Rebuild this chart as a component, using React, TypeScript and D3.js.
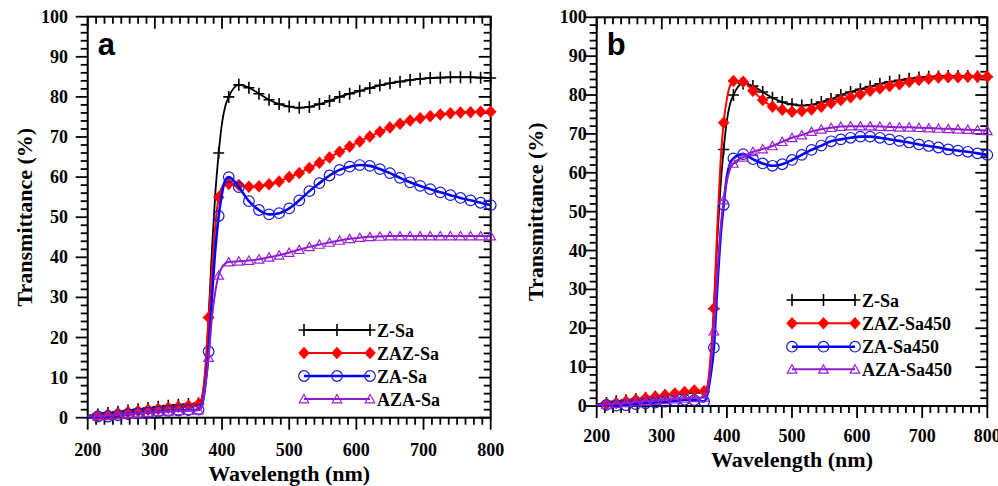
import React from "react";
import * as d3 from "d3";

// Wavelengths (nm) at which symbols are placed
const markerNm = [
  215, 230, 245, 260, 275, 290, 305, 320, 335, 350, 365, 380, 395, 410, 425, 440, 455, 470, 485, 500,
  515, 530, 545, 560, 575, 590, 605, 620, 635, 650, 665, 680, 695, 710, 725, 740, 755, 770, 785, 800,
];
// Additional wavelengths sampled only for the connecting lines (absorption edge)
const edgeNm = [200, 370, 375, 385, 390, 400, 405];

const xTicks = [200, 300, 400, 500, 600, 700, 800];
const yTicks = [0, 10, 20, 30, 40, 50, 60, 70, 80, 90, 100];

// Transmittance (%) — Z-Sa (shared by both panels)
const zSa = [
  0.8, 1.2, 1.5, 1.8, 2.1, 2.4, 2.7, 3.0, 3.2, 3.4, 3.6, 25.0, 66.0, 80.0, 83.0, 82.3, 80.8, 79.3, 78.2, 77.6,
  77.3, 77.5, 78.2, 79.0, 80.0, 80.8, 81.5, 82.2, 82.9, 83.4, 83.8, 84.2, 84.5, 84.7, 84.8, 84.9, 84.9, 84.9, 84.8, 84.7,
];
const zSaEdge = [0.5, 5, 11, 42, 56, 73.5, 77.8];

// Panel a
const zazSa = [
  0.5, 0.8, 1.1, 1.4, 1.7, 2.0, 2.2, 2.5, 2.7, 3.0, 3.4, 25.0, 55.0, 58.3, 58.0, 57.6, 57.7, 58.2, 58.9, 60.0,
  61.0, 62.3, 63.6, 64.9, 66.3, 67.6, 68.9, 70.1, 71.3, 72.4, 73.3, 74.1, 74.7, 75.2, 75.6, 75.9, 76.1, 76.2, 76.3, 76.3,
];
const zazSaEdge = [0.3, 5, 12, 37, 48, 57.5, 58.5];

const zaSa = [
  0.3, 0.3, 0.6, 0.9, 1.1, 1.3, 1.5, 1.7, 1.8, 1.9, 2.0, 16.5, 50.3, 60.0, 57.5, 54.0, 51.8, 50.7, 51.0, 52.2,
  54.2, 56.5, 58.5, 60.4, 61.8, 62.6, 63.0, 62.8, 62.0, 61.0, 59.8, 58.7, 57.8, 57.0, 56.2, 55.5, 54.8, 54.2, 53.6, 53.0,
];
const zaSaEdge = [0.2, 3, 8, 30, 42, 56, 59.3];

const azaSa = [
  0.4, 0.5, 0.7, 0.9, 1.1, 1.3, 1.5, 1.6, 1.7, 1.8, 1.9, 15.0, 35.5, 38.8, 39.0, 39.2, 39.5, 40.0, 40.5, 41.2,
  41.9, 42.6, 43.2, 43.7, 44.2, 44.6, 44.9, 45.1, 45.2, 45.3, 45.3, 45.3, 45.3, 45.3, 45.3, 45.3, 45.3, 45.3, 45.3, 45.3,
];
const azaSaEdge = [0.3, 3, 8, 25, 31.5, 37.5, 38.5];

// Panel b
const zazSa450 = [
  0.5, 0.8, 1.2, 1.6, 2.0, 2.4, 2.8, 3.2, 3.6, 4.0, 3.8, 25.1, 72.9, 83.6, 83.4, 81.1, 78.7, 77.0, 76.2, 75.7,
  75.9, 76.3, 77.0, 77.9, 78.7, 79.4, 80.2, 81.1, 81.7, 82.3, 82.8, 83.4, 83.9, 84.2, 84.5, 84.6, 84.6, 84.7, 84.7, 84.7,
];
const zazSa450Edge = [0.3, 5, 13, 45, 62, 79, 82.5];

const zaSa450 = [
  0.3, 0.1, 0.2, 0.5, 0.7, 0.9, 1.1, 1.3, 1.6, 1.5, 1.2, 15.0, 51.7, 63.7, 64.8, 63.5, 62.4, 61.8, 62.2, 63.3,
  64.6, 65.9, 67.0, 68.1, 68.6, 69.0, 69.3, 69.3, 69.0, 68.6, 68.2, 67.8, 67.3, 66.9, 66.5, 66.0, 65.7, 65.4, 65.0, 64.6,
];
const zaSa450Edge = [0.2, 3, 8, 30, 43, 59, 62.5];

const azaSa450 = [
  0.4, 0.6, 0.8, 1.0, 1.2, 1.4, 1.6, 1.8, 2.0, 2.1, 2.2, 19.3, 53.0, 62.4, 64.0, 65.4, 66.1, 66.9, 68.0, 69.0,
  69.7, 70.6, 71.2, 71.6, 71.9, 72.0, 72.0, 72.0, 71.9, 71.8, 71.7, 71.7, 71.6, 71.5, 71.4, 71.3, 71.2, 71.1, 71.0, 70.8,
];
const azaSa450Edge = [0.3, 3.5, 10, 33, 45, 58, 61];

type Symbol = "plus" | "diamond" | "circle" | "triangle";

interface Series {
  name: string;
  values: number[];
  edge: number[];
  color: string;
  markerColor: string;
  width: number;
  symbol: Symbol;
}

const panelA: Series[] = [
  { name: "Z-Sa", values: zSa, edge: zSaEdge, color: "#000000", markerColor: "#000000", width: 1.8, symbol: "plus" },
  { name: "ZAZ-Sa", values: zazSa, edge: zazSaEdge, color: "#ff0000", markerColor: "#ff0000", width: 2, symbol: "diamond" },
  { name: "ZA-Sa", values: zaSa, edge: zaSaEdge, color: "#0000ff", markerColor: "#1a1acc", width: 2.6, symbol: "circle" },
  { name: "AZA-Sa", values: azaSa, edge: azaSaEdge, color: "#8a1ccc", markerColor: "#9a22d6", width: 2, symbol: "triangle" },
];

const panelB: Series[] = [
  { name: "Z-Sa", values: zSa, edge: zSaEdge, color: "#000000", markerColor: "#000000", width: 1.8, symbol: "plus" },
  { name: "ZAZ-Sa450", values: zazSa450, edge: zazSa450Edge, color: "#ff0000", markerColor: "#ff0000", width: 2, symbol: "diamond" },
  { name: "ZA-Sa450", values: zaSa450, edge: zaSa450Edge, color: "#0000ff", markerColor: "#1a1acc", width: 2.6, symbol: "circle" },
  { name: "AZA-Sa450", values: azaSa450, edge: azaSa450Edge, color: "#8a1ccc", markerColor: "#9a22d6", width: 2, symbol: "triangle" },
];

const SERIF = "'Liberation Serif', 'Times New Roman', serif";
const SANS = "'Liberation Sans', Arial, sans-serif";

function Marker({ kind, color, cx, cy }: { kind: Symbol; color: string; cx: number; cy: number }) {
  const t = `translate(${cx},${cy})`;
  if (kind === "plus")
    return <path transform={t} d="M-5.5,0H5.5M0,-6V6" stroke={color} strokeWidth={1.6} fill="none" />;
  if (kind === "diamond")
    return <path transform={t} d="M0,-6L5.5,0L0,6L-5.5,0Z" fill={color} stroke={color} strokeWidth={0.5} />;
  if (kind === "circle") return <circle cx={cx} cy={cy} r={5.3} fill="none" stroke={color} strokeWidth={1.2} />;
  return <path transform={t} d="M0,-4.5L4.8,3.8L-4.8,3.8Z" fill="none" stroke={color} strokeWidth={1.2} />;
}

interface Box {
  left: number;
  right: number;
  top: number;
  bottom: number;
}

function Panel({
  box,
  letter,
  series,
  legend,
  yLabelX,
  xLabelY,
  xTitleY,
  yTitleX,
}: {
  box: Box;
  letter: string;
  series: Series[];
  legend: { x0: number; x1: number; rows: number[] };
  yLabelX: number;
  xLabelY: number;
  xTitleY: number;
  yTitleX: number;
}) {
  const x = d3.scaleLinear().domain([200, 800]).range([box.left, box.right]);
  const y = d3.scaleLinear().domain([0, 100]).range([box.bottom, box.top]);
  const line = d3
    .line<[number, number]>()
    .x((d) => x(d[0]))
    .y((d) => y(d[1]))
    .curve(d3.curveMonotoneX);

  const xMinor = d3.range(200, 800.01, 12.5).filter((v) => v % 100 !== 0);
  const yMinor = d3.range(0, 100.01, 2).filter((v) => v % 10 !== 0);
  const MAJ = 12;
  const MIN = 7;
  const tickW = 1.8;

  return (
    <g>
      {/* frame */}
      <rect
        x={box.left}
        y={box.top}
        width={box.right - box.left}
        height={box.bottom - box.top}
        fill="none"
        stroke="#000"
        strokeWidth={2}
      />
      {/* ticks */}
      <g stroke="#000" strokeWidth={tickW}>
        {xTicks.map((t) => (
          <g key={"xM" + t}>
            <line x1={x(t)} x2={x(t)} y1={box.bottom} y2={box.bottom + MAJ} />
            <line x1={x(t)} x2={x(t)} y1={box.top} y2={box.top + MAJ} />
          </g>
        ))}
        {xMinor.map((t) => (
          <g key={"xm" + t}>
            <line x1={x(t)} x2={x(t)} y1={box.bottom} y2={box.bottom + MIN} />
            <line x1={x(t)} x2={x(t)} y1={box.top} y2={box.top + MIN} />
          </g>
        ))}
        {yTicks.map((t) => (
          <g key={"yM" + t}>
            <line x1={box.left - MAJ} x2={box.left} y1={y(t)} y2={y(t)} />
            <line x1={box.right - MAJ} x2={box.right} y1={y(t)} y2={y(t)} />
          </g>
        ))}
        {yMinor.map((t) => (
          <g key={"ym" + t}>
            <line x1={box.left - MIN} x2={box.left} y1={y(t)} y2={y(t)} />
            <line x1={box.right - MIN} x2={box.right} y1={y(t)} y2={y(t)} />
          </g>
        ))}
      </g>
      {/* tick labels */}
      <g fontFamily={SERIF} fontWeight="bold" fontSize={18} fill="#000">
        {xTicks.map((t) => (
          <text key={"xl" + t} x={x(t)} y={xLabelY} textAnchor="middle">
            {t}
          </text>
        ))}
        {yTicks.map((t) => (
          <text key={"yl" + t} x={yLabelX} y={y(t) + 6} textAnchor="end">
            {t}
          </text>
        ))}
      </g>
      {/* axis titles */}
      <text
        x={(box.left + box.right) / 2}
        y={xTitleY}
        textAnchor="middle"
        fontFamily={SERIF}
        fontWeight="bold"
        fontSize={22}
      >
        Wavelength (nm)
      </text>
      <text
        transform={`translate(${yTitleX},${(box.top + box.bottom) / 2}) rotate(-90)`}
        textAnchor="middle"
        fontFamily={SERIF}
        fontWeight="bold"
        fontSize={22}
      >
        Transmittance (%)
      </text>
      <text x={box.left + 10} y={55} fontFamily={SANS} fontWeight="bold" fontSize={31}>
        {letter}
      </text>
      {/* curves */}
      {series.map((s) => {
        const pts: [number, number][] = markerNm
          .map((nm, i) => [nm, s.values[i]] as [number, number])
          .concat(edgeNm.map((nm, i) => [nm, s.edge[i]] as [number, number]))
          .sort((a, b) => a[0] - b[0]);
        return (
          <g key={s.name}>
            <path d={line(pts) ?? ""} fill="none" stroke={s.color} strokeWidth={s.width} strokeLinejoin="round" />
            {markerNm.map((nm, i) => (
              <Marker key={nm} kind={s.symbol} color={s.markerColor} cx={x(nm)} cy={y(s.values[i])} />
            ))}
          </g>
        );
      })}
      {/* legend */}
      {series.map((s, i) => {
        const ry = legend.rows[i];
        const mid = (legend.x0 + legend.x1) / 2;
        return (
          <g key={"lg" + s.name}>
            <line x1={legend.x0} x2={legend.x1} y1={ry} y2={ry} stroke={s.color} strokeWidth={s.width} />
            {[legend.x0, mid, legend.x1].map((mx) => (
              <Marker key={mx} kind={s.symbol} color={s.markerColor} cx={mx} cy={ry} />
            ))}
            <text
              x={legend.x1 + 7}
              y={ry + 6.5}
              fontFamily={SERIF}
              fontWeight="bold"
              fontSize={18}
              fill="#000"
            >
              {s.name}
            </text>
          </g>
        );
      })}
    </g>
  );
}

export default function App() {
  return (
    <div style={{ position: "absolute", left: 0, top: 0 }}>
      <style>{`body{margin:0;background:#fff}`}</style>
      <svg width={998} height={486} style={{ display: "block", background: "#fff" }}>
        <Panel
          box={{ left: 87.7, right: 490.7, top: 16.7, bottom: 417.7 }}
          letter="a"
          series={panelA}
          legend={{ x0: 304, x1: 370, rows: [330, 353, 376, 399] }}
          yLabelX={68}
          xLabelY={456}
          xTitleY={480.5}
          yTitleX={32}
        />
        <Panel
          box={{ left: 596.7, right: 987.3, top: 17.3, bottom: 406 }}
          letter="b"
          series={panelB}
          legend={{ x0: 792, x1: 855, rows: [300, 323.3, 346.7, 369.3] }}
          yLabelX={586.7}
          xLabelY={442}
          xTitleY={467}
          yTitleX={543}
        />
      </svg>
    </div>
  );
}
